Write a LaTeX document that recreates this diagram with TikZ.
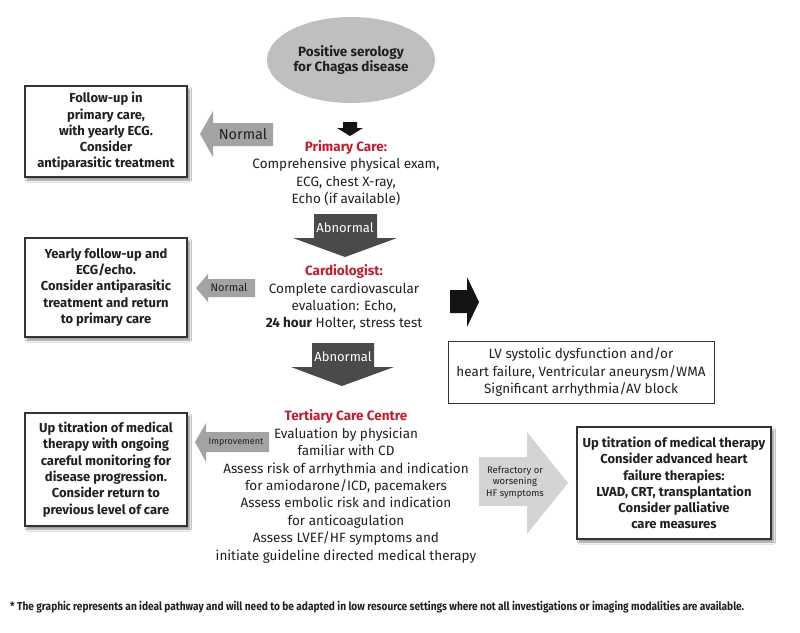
\documentclass[tikz,border=0pt]{standalone}
\usepackage{fontspec}
\setmainfont{Fira Sans}
\newfontfamily\condfont[FakeStretch=0.88]{Fira Sans}
\usetikzlibrary{shapes.geometric,shadows.blur}
\definecolor{txt}{HTML}{231F20}
\definecolor{redh}{HTML}{BE1E2D}
\definecolor{darkarr}{HTML}{4A4A4A}
\definecolor{midarr}{HTML}{A3A3A3}
\definecolor{lightarr}{HTML}{D4D4D4}
\definecolor{ellfill}{HTML}{BFBFBF}
\begin{document}
\begin{tikzpicture}[x=1pt,y=-1pt,
  every node/.style={text=txt, inner sep=0pt},
  bodytext/.style={align=center, font=\fontsize{13.5}{17.3}\selectfont},
  boxnode/.style={draw=black!80, line width=1.1pt, fill=white, align=center,
     blur shadow={shadow xshift=2.5pt, shadow yshift=-3pt, shadow blur steps=6, shadow opacity=45},
     font=\bfseries\fontsize{13}{16.3}\selectfont},
  darkblk/.style={fill=darkarr},
  midblk/.style={fill=midarr},
  lightblk/.style={fill=lightarr},
  blackblk/.style={fill=black!92},
  heading/.style={text=redh, font=\bfseries}
]
\useasboundingbox (0,0) rectangle (800,632);
\fill[white] (0,0) rectangle (800,632);

% start ellipse
\node[ellipse, fill=ellfill, minimum width=168, minimum height=86, align=center,
      font=\bfseries\fontsize{13.5}{15.5}\selectfont] (start) at (351,60)
      {Positive serology\\for Chagas disease};

% small black arrow
\fill[blackblk] (343,122) -- (357,122) -- (357,128) -- (363,128) -- (350,136)
   -- (337,128) -- (343,128) -- cycle;

% primary care
\node[bodytext] (primary) at (346,173)
  {{\color{redh}\bfseries Primary Care:}\\Comprehensive physical exam,\\ECG, chest X-ray,\\Echo (if available)};

% box 1
\node[boxnode, minimum width=162, minimum height=91] (box1) at (106,131.5)
  {Follow-up in\\primary care,\\with yearly ECG.\\Consider\\antiparasitic treatment};

% Normal arrow 1
\fill[midblk] (200,134) -- (213,111) -- (213,123) -- (273,123) -- (273,146)
   -- (213,146) -- (213,157) -- cycle;
\node[font=\fontsize{14.5}{16}\selectfont] (normal1) at (243,134.5) {Normal};

% Abnormal arrow 1
\fill[darkarr] (314,214) -- (377,214) -- (377,238) -- (397,238) -- (345,257)
   -- (293,238) -- (314,238) -- cycle;
\node[text=white, font=\fontsize{13}{15}\selectfont] (abn1) at (345,228) {Abnormal};

% Cardiologist
\node[bodytext] (cardio) at (344,297.5)
  {{\color{redh}\bfseries Cardiologist:}\\Complete cardiovascular\\evaluation: Echo,\\\textbf{24 hour} Holter, stress test};

% box 2
\node[boxnode, minimum width=162, minimum height=99] (box2) at (106,287.5)
  {Yearly follow-up and\\ECG/echo.\\Consider antiparasitic\\treatment and return\\to primary care};

% Normal arrow 2
\fill[midblk] (196,288) -- (208,274) -- (208,279) -- (255,279) -- (255,297)
   -- (208,297) -- (208,302) -- cycle;
\node[font=\fontsize{11}{13}\selectfont] (normal2) at (229,287.5) {Normal};

% black right arrow
\fill[blackblk] (450,290) -- (467,290) -- (467,277) -- (479,302) -- (467,327)
   -- (467,313) -- (450,313) -- cycle;

% LV box
\node[draw=black!80, line width=1pt, fill=white, minimum width=266, minimum height=62,
      align=center, font=\fontsize{13.5}{17.5}\selectfont] (lv) at (581,372)
  {LV systolic dysfunction and/or\\heart failure, Ventricular aneurysm/WMA\\Significant arrhythmia/AV block};

% Abnormal arrow 2
\fill[darkarr] (312,343) -- (374,343) -- (374,367) -- (394,367) -- (342,386)
   -- (291,367) -- (312,367) -- cycle;
\node[text=white, font=\fontsize{13}{15}\selectfont] (abn2) at (343,357) {Abnormal};

% Tertiary
\node[bodytext, font=\fontsize{13.5}{17.4}\selectfont] (tertiary) at (346,486.5)
  {{\color{redh}\bfseries Tertiary Care Centre}\\Evaluation by physician\\familiar with CD\\Assess risk of arrhythmia and indication\\for amiodarone/ICD, pacemakers\\Assess embolic risk and indication\\for anticoagulation\\Assess LVEF/HF symptoms and\\initiate guideline directed medical therapy};

% box 3
\node[boxnode, minimum width=162, minimum height=113] (box3) at (106,469.5)
  {Up titration of medical\\therapy with ongoing\\careful monitoring for\\disease progression.\\Consider return to\\previous level of care};

% Improvement arrow
\fill[midblk] (195,442) -- (206,423) -- (206,432) -- (269,432) -- (269,452)
   -- (206,452) -- (206,462) -- cycle;
\node[font=\fontsize{9}{11}\selectfont] (improve) at (236,442) {Improvement};

% Refractory arrow
\fill[lightblk] (479,457) -- (527,457) -- (527,432) -- (568,483) -- (527,534)
   -- (527,506) -- (479,506) -- cycle;
\node[align=center, font=\fontsize{9.5}{11.5}\selectfont] (refr) at (515,482)
  {Refractory or\\worsening\\HF symptoms};

% box 4
\node[boxnode, minimum width=194, minimum height=112] (box4) at (674,483)
  {Up titration of medical therapy\\Consider advanced heart\\failure therapies:\\LVAD, CRT, transplantation\\Consider palliative\\care measures};

% footnote
\node[anchor=west, font=\condfont\bfseries\fontsize{11.5}{13}\selectfont] (foot) at (10,607)
  {* The graphic represents an ideal pathway and will need to be adapted in low resource settings where not all investigations or imaging modalities are available.};
\end{tikzpicture}
\end{document}
